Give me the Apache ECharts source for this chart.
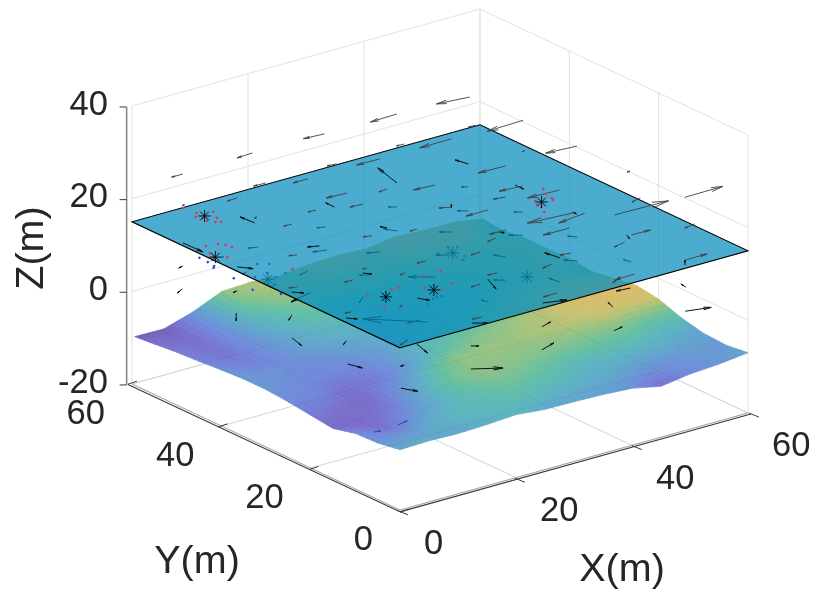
<!DOCTYPE html>
<html><head><meta charset="utf-8">
<style>html,body{margin:0;padding:0;background:#fff}#c{width:824px;height:603px}</style>
<script src="https://cdn.jsdelivr.net/npm/echarts@6/dist/echarts.min.js"></script>
</head><body><div id="c"></div>
<script>
var xTicks=[0,20,40,60], yTicks=[0,20,40,60], zTicks=[-20,0,20,40];
var surfaceX=[0,5,10,15,20,25,30,35,40,45,50,55,60];
var surfaceY=[0,5,10,15,20,25,30,35,40,45,50,55,59.4];
var surfaceZ=[
[-7,-6.8,-7,-6.8,-6.4,-7,-7.1,-7.3,-7.7,-9,-8.1,-7.7,-7],
[-7.8,-7.6,-6.8,-6.3,-6.3,-6,-6.5,-6.7,-7,-7.5,-7.8,-7.5,-7.6],
[-8,-9,-7.7,-6.6,-5.9,-5.4,-5.6,-6,-6.4,-6.3,-6.5,-7,-7.3],
[-9.2,-9.3,-8.6,-7,-5.6,-5,-5.1,-5.2,-5.3,-5.4,-5.5,-6,-6.2],
[-8.6,-9,-9.2,-7.8,-6.3,-5.1,-4.9,-4.9,-4.7,-4.6,-4.4,-4.4,-4.5],
[-8,-8.3,-9,-8.6,-7.5,-6.2,-5.5,-5.1,-4.8,-4.5,-4.1,-3.9,-3.8],
[-7.6,-8,-8.2,-8.2,-7.6,-6.5,-6.2,-5.9,-5.3,-4.9,-4.5,-4.2,-4.6],
[-7.6,-7.8,-8,-7.6,-7.2,-6.7,-6.4,-6.1,-5.8,-5.3,-5,-4.8,-5.3],
[-7.9,-8.4,-7.8,-6.9,-6.6,-6.5,-6.4,-6.2,-6,-5.7,-5.4,-5,-4.7],
[-8.3,-8.8,-7.7,-6.6,-6,-6.2,-6.1,-6,-5.7,-5.5,-5.3,-5,-4.9],
[-8.6,-9,-7.6,-6.3,-5.4,-5.4,-5.4,-5.3,-5.2,-5,-4.9,-4.9,-4.9],
[-9.1,-9.2,-7.6,-5.4,-4.8,-5,-4.7,-4.6,-4.8,-4.4,-4.3,-4.4,-5.5],
[-9.5,-9.6,-7.7,-5,-4.7,-5.1,-4.4,-4.2,-4.5,-3.6,-4,-4,-5]
];
var planeZ=15, planeCorners=[[0,0],[60,0],[60,60],[0,60]];
var topArrows=[
[6.9,57.6,24,-1.9,0],[19.3,58.1,24,-2.8,-.2],[31.5,57.8,24,-3.4,.3],[43.9,57.7,24,-4.7,-.2],[55.7,56.7,24,-5.2,.7],
[56.1,45.3,24,-6.4,-.3],[56,33.1,24,-5,.5],[56,21.2,24,-.55,-.05],[55.9,8.8,24,6.6,.1],[49.8,47.8,24,-1.2,0],
[13.8,48,24,-2,.1],[25.9,47.8,24,-1.5,.2],[37.8,48.1,24,-1.3,.1],[7.3,45.9,24,-1.8,-.1],[19.3,45.7,24,-2.5,.05],
[31.7,45.7,24,-3.9,.1],[44.1,45.7,24,-5.5,0],[0,48.3,24,-.45,-.13],[5,38.5,24,-.55,-.05],[13,35.7,24,-1.3,.1],
[20.3,38.2,24,-3.4,.3],[25.6,36.1,24,-1.6,-.2],[31.7,33.3,24,-3.5,.3],[43.7,33.1,24,-4.6,.2],[49.1,36.1,24,-.35,-.2],
[19.5,33.6,24,-2.1,.2],[28.4,25.3,24,-1.6,.8],[40.8,25.7,24,-3.6,.4],[44,21.4,24,-5.3,.3],[40.7,13.4,24,-7.8,.8],
[41.4,12.4,24,-5.1,-.8],[44.2,9.4,24,9.1,-.3],[50.9,12.3,24,-1.8,-.5],[41.4,2,24,3.2,-.1],[50.8,0,24,-2,-.4],
[50,1.1,16,3.8,0],[47.6,11.5,16,-2.3,-.6],[41.3,1.1,16,-3.5,-.1],[44.8,20.3,16,-4.4,.1],[40.2,32.5,16,-3.8,0],
[45.1,34.9,16,-1.8,.4],[39.3,12.7,16,-1.7,.3],[37.5,25,16,-2.7,.1],[34.6,23.5,16,-1.8,-.5],[29.7,20.6,16,-1.7,-.15],
[34.6,11,16,-1.9,-.45],[28.6,1.9,16,-2.4,0],[26.7,12.9,16,-1.5,.2],[22.3,11,16,-1.7,-.15],[14.9,1,16,-1.5,.2],
[21.7,22.4,16,-1.4,.15],[9.2,35,16,-1.1,.4],[15.7,44.6,16,-1.3,.1],[21.7,34.4,16,-1.2,.45],[16.7,20.6,16,-1,-.2],
[9.4,22.8,16,-1.3,.1],[9.1,11.2,16,-.8,-.35],[1.9,13.4,16,-.9,.2],[1.8,25.4,16,-1.1,.4],[13.7,25.3,16,-.65,0],
[28.1,32.7,16,-1.2,0],[1.6,.3,16,-2,-.8]
];
var planeArrows=[
[35.5,46.8,17,1.4,6.1],[10.9,46.7,17,-.2,3],[23.2,44.8,17,0,1.95],[47.6,46.5,17,-.5,2.3],[47.8,36.3,17,0,-1.9],
[35.6,34.7,17,.9,1.2],[24.1,34.2,17,-.5,.9],[6,56.4,10,.1,-4.4],[12.6,34.4,17,-1.5,.7],[8.5,47.5,8,1.3,-1.9],
[11.1,22.7,17,.7,-1.05],[8.6,35.4,8,1.1,-1.3],[11.2,10.6,17,.8,-1.6],[8.5,23.1,8,1,-1.2],[47.8,23.5,17,0,-.9],
[48.4,12.1,17,-.6,-1.45],[49.9,1,15,1.15,1.5],[35.9,10.8,17,-.5,2.75],[35.3,23.6,17,.3,-.7],[23.2,10.5,17,-1.4,-3.7],
[25.8,1.5,15,3.3,-1.1],[13.5,1.4,15,1.73,-1.33],[37.9,1.6,15,2.1,1.2]
];
var underArrows=[
[18.5,55.8,5,-1.3,.5],[30.5,56.2,5,-1.2,.45],[37.3,49,5,-1.05,1.8],[42.8,56.2,5,-.97,.75],[55.1,56.3,5,-.76,.58],
[49.6,49.1,5,-1.2,.9],[55.2,44.2,5,-.97,.75],[42.9,44.2,5,-1.3,1],[49.9,37.3,5,-1.5,1.17],[55.4,32.2,5,-.85,1.1],
[55.4,20.2,5,-.2,1.55],[49.9,25,5,-1.3,1.45],[43,32.2,5,-.85,1.6],[43.1,20.2,5,-.3,2.1],[37.7,25.3,5,-1.3,1],
[30.8,32.1,5,-2.9,2.25],[37.3,37.5,5,-1.4,1.1],[30.5,44.2,5,-1.6,.8],[25.3,49.2,5,-2,.6],[18.4,44.5,5,-1.8,-.5],
[13.6,37.8,5,-4.1,-1.1],[18.4,32.2,5,-1.8,-1.5],[24.2,38.1,5,-1.2,.9],[19.6,19.3,5,-6.3,6.3],[19.3,20.5,5,-2.1,.2],
[30.7,20.3,5,-.2,1.1],[11.5,49.3,5,-.9,-.3]
];
var lowArrows=[
[6,56.4,5,-.9,-.25],[.7,49.6,5,-1.5,-.8],[6.2,44.5,5,-.9,-.25],[9.5,49,-3,-1.84,-2.39],[15,43.7,-3,-1.5,-1.25],
[19.4,48,-3,-1.45,-.3],[9.8,36.9,-3,-.75,-3.2],[15,31.5,-3,-1.25,-.95],[9.8,24.5,-3,.7,-2.45],[21.9,24.7,-3,-.9,-3.6],
[15.7,19.4,-3,-.65,0],[10,12.8,-3,1.15,-2.3],[27.3,19.6,-3,.87,-.67],[22,12.7,-3,3.7,-2.4],[39.4,19.4,-3,2.1,.75],
[34.1,12.5,-3,2.9,1.1],[46.3,12.2,-3,1.8,.5],[51.6,19.3,-3,.6,1.9],[58.5,12.1,-3,3.7,-1],[55.6,8.2,5,.15,1.3],
[57.9,23.6,-3,-2.2,.3]
];
var blueArrows=[[2.3,8.9,-8,1,-.3],[6.5,9,-8,2,.4]];
var blackStars=[[9.2,55.7,15],[.9,42.5,15],[48.9,31.8,15],[10.2,16.4,15],[17,14.5,15]];
var tealStars=[[12.2,45.4,5],[38.2,37.8,5],[40.7,24.4,5]];
var redDots=[
[9,57.2,15],[8,56.1,15],[8.5,55.3,15],[8.3,54,15],[11.1,56.2,15],[10.1,54.1,15],[9,53,15],[9.6,52.5,15],[8.7,59.9,15],
[2.4,46.6,15],[4.2,46.2,15],[4.8,45.3,15],[5,44.1,15],[1.2,44.1,15],[2.2,41.5,15],[.7,42.7,15],
[52.1,35.6,15],[51.2,33.8,15],[50.9,32.1,15],[48.4,32.6,15],[47.7,31.3,15],[47.7,30.3,15],[46.9,28.6,15],[50.6,31.4,15],
[8.9,18.8,15],[12.6,18.3,15],[13.7,18,15],[7.7,13.5,15],[16.4,15.9,15],[22.1,19.6,15],[19.1,19.5,15],[20.5,15.1,15],[17.8,13.8,15],[6.5,32.5,15]
];
var blueDots=[
[9.7,57.5,5],[9.6,55.5,5],[9.4,53.8,5],[8.9,53.3,5],[12.4,55.8,5],[14.5,50.8,5],[15.8,49.8,5],[8.7,48.5,5],[8.1,43.5,5],
[13.5,47.3,5],[13.5,45.4,5],[11.3,47.1,5],[15.5,45.8,5],[11.6,43.1,5],[10.2,39.9,5],[10.8,42.8,5],
[39.1,40,5],[40.1,39.2,5],[36.6,39,5],[38.8,35.9,5],[37.7,34.8,5],[26.4,26,5],[27.1,25.9,5],[23.7,24.7,5],[25.5,25.7,5]
];
var colorStops=[[-10,[98,83,168]],[-9.2,[122,107,200]],[-8.2,[114,134,220]],[-7.3,[99,160,208]],[-6.5,[92,180,192]],[-5.8,[98,191,164]],[-5,[147,195,132]],[-4.4,[200,194,112]],[-3.8,[224,184,104]],[-3,[229,173,98]]];

function proj(x,y,z){return [400+5.8*x-4.467*y, 510-1.617*x-2.1*y-4.633*(z+20)];}
function col(z){
  var s=colorStops;
  if(z<=s[0][0])return 'rgb('+s[0][1]+')';
  for(var i=1;i<s.length;i++){ if(z<=s[i][0]){
    var t=(z-s[i-1][0])/(s[i][0]-s[i-1][0]),a=s[i-1][1],b=s[i][1];
    return 'rgb('+Math.round(a[0]+(b[0]-a[0])*t)+','+Math.round(a[1]+(b[1]-a[1])*t)+','+Math.round(a[2]+(b[2]-a[2])*t)+')';
  }}
  return 'rgb('+s[s.length-1][1]+')';
}
function P(api,x,y,z){return api.coord(proj(x,y,z));}
function seg(a,b,c,w){return {type:'line',shape:{x1:a[0],y1:a[1],x2:b[0],y2:b[1]},style:{stroke:c,lineWidth:w,fill:null},silent:true};}

var chart=echarts.init(document.getElementById('c'),null,{renderer:'canvas'});
function custom(name,z,data,render){return {type:'custom',name:name,coordinateSystem:'cartesian2d',z:z,data:data,clip:false,silent:true,animation:false,renderItem:render,encode:{x:0,y:1}};}
function gridLines(api,c,w,which){
  var ch=[];
  function L(a,b){ch.push(seg(P(api,a[0],a[1],a[2]),P(api,b[0],b[1],b[2]),c,w));}
  xTicks.forEach(function(t){
    L([t,0,-20],[t,60,-20]);
    if(which==='all')L([t,60,-20],[t,60,40]);
  });
  yTicks.forEach(function(t){
    L([0,t,-20],[60,t,-20]);
    if(which==='all')L([60,t,-20],[60,t,40]);
  });
  if(which==='all')zTicks.forEach(function(t){L([0,60,t],[60,60,t]);L([60,60,t],[60,0,t]);});
  return {type:'group',children:ch};
}
function renderArrow(color,w){return function(p,api){
  var x=api.value(0),y=api.value(1),z=api.value(2),u=api.value(3),v=api.value(4);
  var a=P(api,x,y,z),b=P(api,x+u,y+v,z);
  var dx=b[0]-a[0],dy=b[1]-a[1],len=Math.sqrt(dx*dx+dy*dy)||1;
  var hl=Math.max(2.6,.3*len),an=.17,ang=Math.atan2(dy,dx);
  var b1=[b[0]-hl*Math.cos(ang-an),b[1]-hl*Math.sin(ang-an)],b2=[b[0]-hl*Math.cos(ang+an),b[1]-hl*Math.sin(ang+an)];
  return {type:'group',children:[seg(a,b,color,w),seg(b1,b,color,w),seg(b2,b,color,w)]};
};}
function renderStar(color,w,r){return function(p,api){
  var c=P(api,api.value(0),api.value(1),api.value(2));var ch=[];
  [[0,1],[1,0],[.71,.71],[.71,-.71]].forEach(function(d){ch.push(seg([c[0]-d[0]*r,c[1]-d[1]*r],[c[0]+d[0]*r,c[1]+d[1]*r],color,w));});
  return {type:'group',children:ch};
};}
function renderDot(color,r){return function(p,api){
  var c=P(api,api.value(0),api.value(1),api.value(2));
  return {type:'circle',shape:{cx:c[0],cy:c[1],r:r},style:{fill:color},silent:true};
};}
var cells=[];
for(var j=surfaceY.length-2;j>=0;j--)for(var i=surfaceX.length-2;i>=0;i--)cells.push([i,j]);
var SUB=4;
function renderCell(p,api){
  var i=api.value(0),j=api.value(1),ch=[];
  var x0=surfaceX[i],x1=surfaceX[i+1],y0=surfaceY[j],y1=surfaceY[j+1];
  var z00=surfaceZ[j][i],z10=surfaceZ[j][i+1],z01=surfaceZ[j+1][i],z11=surfaceZ[j+1][i+1];
  function Z(s,t){return z00*(1-s)*(1-t)+z10*s*(1-t)+z01*(1-s)*t+z11*s*t;}
  for(var b=SUB-1;b>=0;b--)for(var a=SUB-1;a>=0;a--){
    var s0=a/SUB,s1=(a+1)/SUB,t0=b/SUB,t1=(b+1)/SUB;
    var pts=[[s0,t0],[s1,t0],[s1,t1],[s0,t1]].map(function(q){return P(api,x0+(x1-x0)*q[0],y0+(y1-y0)*q[1],Z(q[0],q[1]));});
    var c=col(Z((s0+s1)/2,(t0+t1)/2));
    ch.push({type:'polygon',shape:{points:pts},style:{fill:c,stroke:c,lineWidth:.7},silent:true});
  }
  return {type:'group',children:ch};
}
var font='"Liberation Sans", Arial, sans-serif', ink='#262626';
function txt(pos,s,size,align,rot){
  var o={type:'text',x:pos[0],y:pos[1],style:{text:s,font:size+'px '+font,fill:ink,textAlign:align,textVerticalAlign:'middle'},silent:true};
  if(rot){o.rotation=rot;}
  return o;
}
function renderText(p,api){
  var ch=[];
  zTicks.forEach(function(t){var a=P(api,0,60,t);ch.push(txt([a[0]-24,a[1]-1],String(t),34.5,'right'));});
  yTicks.forEach(function(t){var a=P(api,0,t,-20);ch.push(txt([a[0]-27,a[1]+30],String(t),34.5,'right'));});
  xTicks.forEach(function(t){var a=P(api,t,0,-20);ch.push(txt([a[0]+24,a[1]+34],String(t),34.5,'left'));});
  ch.push(txt(api.coord([622,570]),'X(m)',39.5,'center'));
  ch.push(txt(api.coord([197,562]),'Y(m)',39.5,'center'));
  ch.push(txt(api.coord([32,248]),'Z(m)',39.5,'center',Math.PI/2));
  return {type:'group',children:ch};
}
function renderRulers(p,api){
  var ch=[],dark='#3a3a3a',grey='#8a8a8a';
  var o=P(api,0,0,-20.4),l=P(api,0,60.9,-20.5),r=P(api,60.5,0,-20.4);
  ch.push(seg(l,o,dark,1.1));ch.push(seg(o,r,dark,1.1));
  ch.push(seg(P(api,0,60,-20),P(api,0,0,-20),'#a8a8a8',1));
  ch.push(seg(P(api,0,0,-20),P(api,60,0,-20),'#a8a8a8',1));
  ch.push(seg(P(api,0,61.2,-20.75),P(api,0,61.2,39.25),grey,1.6));
  zTicks.forEach(function(t){var a=P(api,0,61.2,t-.75);ch.push(seg([a[0]-7,a[1]],a,dark,1));});
  yTicks.forEach(function(t){var a=P(api,0,t*60.9/60,-20.45);ch.push(seg([a[0]+9,a[1]-3],[a[0],a[1]],dark,1));});
  xTicks.forEach(function(t){var a=P(api,t*60.5/60,0,-20.4);ch.push(seg([a[0]-2,a[1]-1],[a[0]+8,a[1]+3],dark,1));});
  return {type:'group',children:ch};
}
var one=[[0,0]];
chart.setOption({
  animation:false,
  backgroundColor:'#fff',
  grid:{left:0,right:0,top:0,bottom:0},
  xAxis:{type:'value',min:0,max:824,show:false},
  yAxis:{type:'value',min:0,max:603,inverse:true,show:false},
  series:[
    custom('walls',1,one,function(p,api){return gridLines(api,'#e2e2e2',1,'all');}),
    custom('surface',2,cells,renderCell),
    custom('floorOver',3,one,function(p,api){return gridLines(api,'rgba(60,60,60,0.1)',.8,'floor');}),
    custom('lowArrows',4,lowArrows,renderArrow('#111',1)),
    custom('blueArrows',4,blueArrows,renderArrow('#3048b0',1)),
    custom('underArrows',4,underArrows,renderArrow('#111',1)),
    custom('tealStars',4,tealStars,renderStar('#111',.9,6.5)),
    custom('blueDots',4,blueDots,renderDot('#2a46e6',1.3)),
    custom('plane',5,one,function(p,api){
      var pts=planeCorners.map(function(c){return P(api,c[0],c[1],planeZ);});
      return {type:'polygon',shape:{points:pts},style:{fill:'rgba(5,140,188,0.72)',stroke:'#000',lineWidth:1.1},silent:true};
    }),
    custom('planeArrows',6,planeArrows,renderArrow('#111',1)),
    custom('topArrows',6,topArrows,renderArrow('rgba(65,65,65,0.9)',1)),
    custom('redDots',7,redDots,renderDot('#dc3560',1.3)),
    custom('blackStars',7,blackStars,renderStar('#000',.9,6)),
    custom('rulers',8,one,renderRulers),
    custom('labels',9,one,renderText)
  ]
});
</script></body></html>
